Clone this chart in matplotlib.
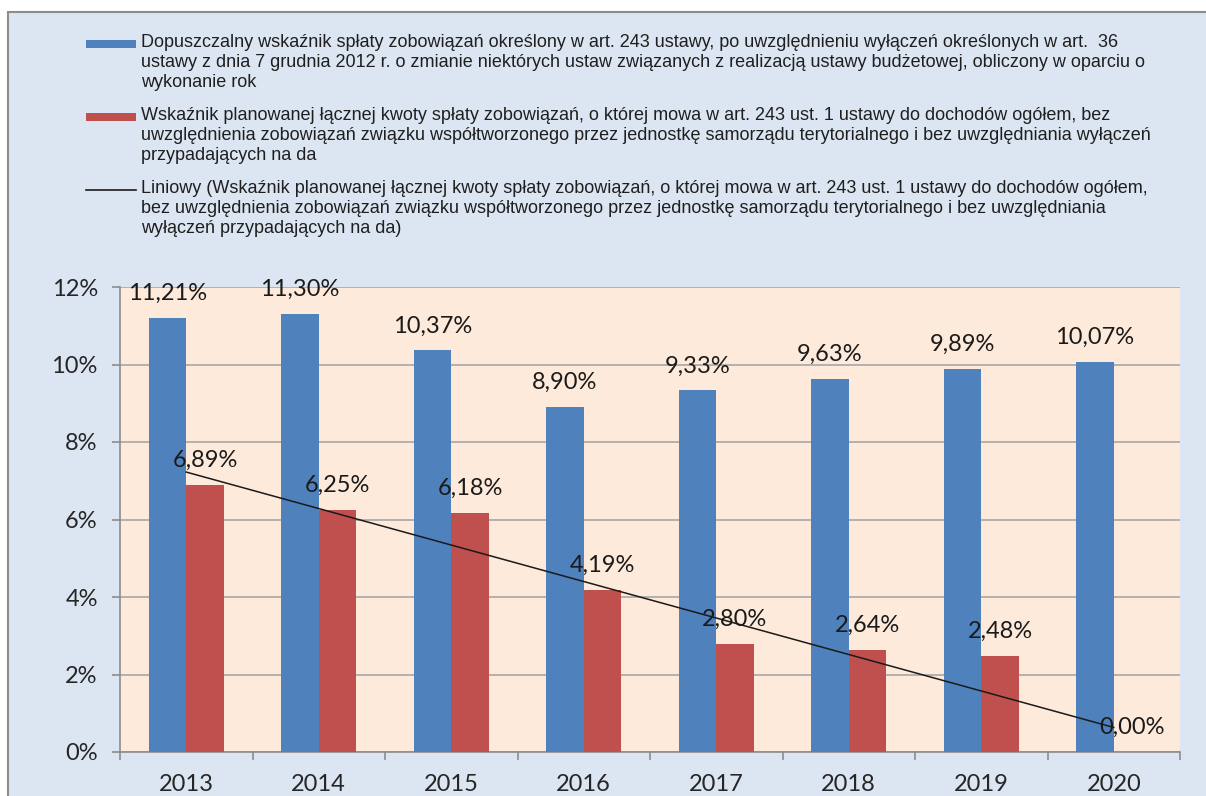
import numpy as np
import matplotlib
matplotlib.use('Agg')
import matplotlib.pyplot as plt
from matplotlib.patches import Rectangle
from matplotlib.lines import Line2D

years = ['2013', '2014', '2015', '2016', '2017', '2018', '2019', '2020']
dopuszczalny = [11.21, 11.30, 10.37, 8.90, 9.33, 9.63, 9.89, 10.07]
planowany = [6.89, 6.25, 6.18, 4.19, 2.80, 2.64, 2.48, 0.00]

label_blue = ('Dopuszczalny wskaźnik spłaty zobowiązań określony w art. 243 ustawy, po uwzględnieniu wyłączeń określonych w art.  36\n'
              'ustawy z dnia 7 grudnia 2012 r. o zmianie niektórych ustaw związanych z realizacją ustawy budżetowej, obliczony w oparciu o\n'
              'wykonanie rok')
label_red = ('Wskaźnik planowanej łącznej kwoty spłaty zobowiązań, o której mowa w art. 243 ust. 1 ustawy do dochodów ogółem, bez\n'
             'uwzględnienia zobowiązań związku współtworzonego przez jednostkę samorządu terytorialnego i bez uwzględniania wyłączeń\n'
             'przypadających na da')
label_trend = ('Liniowy (Wskaźnik planowanej łącznej kwoty spłaty zobowiązań, o której mowa w art. 243 ust. 1 ustawy do dochodów ogółem,\n'
               'bez uwzględnienia zobowiązań związku współtworzonego przez jednostkę samorządu terytorialnego i bez uwzględniania\n'
               'wyłączeń przypadających na da)')

BLUE = '#4F81BD'
RED = '#C0504D'
BG = '#DCE6F2'
PLOT_BG = '#FDEADA'
GRID = '#A6A6A6'

W, H = 1206, 796
fig = plt.figure(figsize=(W / 100, H / 100), dpi=100, facecolor='white')

# chart frame
fig.patches.append(Rectangle((8 / W, -0.1), 1.2, (H - 12) / H + 0.1, transform=fig.transFigure,
                             facecolor=BG, edgecolor='#8C8C8C', linewidth=1.5, zorder=-5))

ax = fig.add_axes([120 / W, 1 - 752 / H, (1180 - 120) / W, (752 - 287) / H])
ax.set_facecolor(PLOT_BG)

x = np.arange(len(years))
w = 0.283
ax.bar(x - w / 2, dopuszczalny, w, color=BLUE, zorder=3)
ax.bar(x + w / 2, planowany, w, color=RED, zorder=3)

# linear trend of red series
k, b = np.polyfit(x, planowany, 1)
ax.plot([x[0], x[-1]], [k * x[0] + b, k * x[-1] + b], color='#1a1a1a', lw=1.1, zorder=5)

lab_font = dict(family='Lato', fontsize=17, color='#1a1a1a')
for xi, v in zip(x, dopuszczalny):
    ax.annotate(f'{v:.2f}%'.replace('.', ','), (xi - w / 2, v), xytext=(0, 17.5),
                textcoords='offset points', ha='center', va='center', zorder=6, **lab_font)
for xi, v in zip(x, planowany):
    ax.annotate(f'{v:.2f}%'.replace('.', ','), (xi + w / 2, v), xytext=(0, 17.5),
                textcoords='offset points', ha='center', va='center', zorder=6, **lab_font)

ax.set_xlim(-0.5, len(years) - 0.5)
ax.set_ylim(0, 12)
ax.set_yticks(range(0, 13, 2))
ax.set_yticklabels([f'{t}%' for t in range(0, 13, 2)], family='Lato', fontsize=17, color='#262626')
ax.set_xticks(x)
ax.set_xticklabels(years, family='Lato', fontsize=17, color='#262626')
ax.set_xticks(np.arange(-0.5, len(years)), minor=True)
ax.tick_params(axis='x', which='major', length=0, pad=16)
ax.tick_params(axis='x', which='minor', length=6, width=1.2, color='#8C8C8C', direction='out')
ax.tick_params(axis='y', length=6, width=1.2, color='#8C8C8C', pad=10)
ax.grid(axis='y', color=GRID, lw=1.2, zorder=1)
ax.set_axisbelow(True)
for s in ['top', 'right']:
    ax.spines[s].set_visible(False)
for s in ['left', 'bottom']:
    ax.spines[s].set_color('#8C8C8C')
    ax.spines[s].set_linewidth(1.2)

# legend drawn by hand so handles sit on the first line of each entry
leg_font = dict(family='Liberation Sans', fontsize=13, color='#1f1f1f', va='top', ha='left', linespacing=1.22)
entries = [(label_blue, 'patch', BLUE, 34), (label_red, 'patch', RED, 107), (label_trend, 'line', '#1a1a1a', 180)]
for text, kind, col, ytop in entries:
    fig.text(141 / W, 1 - ytop / H, text, **leg_font)
    yc = ytop + 10
    if kind == 'patch':
        fig.patches.append(Rectangle((86 / W, 1 - (yc + 4) / H), 50 / W, 8 / H,
                                     transform=fig.transFigure, facecolor=col, edgecolor='none'))
    else:
        fig.lines.append(Line2D([86 / W, 136 / W], [1 - yc / H, 1 - yc / H],
                                transform=fig.transFigure, color=col, lw=1.2))

fig.savefig('out.png', dpi=100, facecolor=fig.get_facecolor())
